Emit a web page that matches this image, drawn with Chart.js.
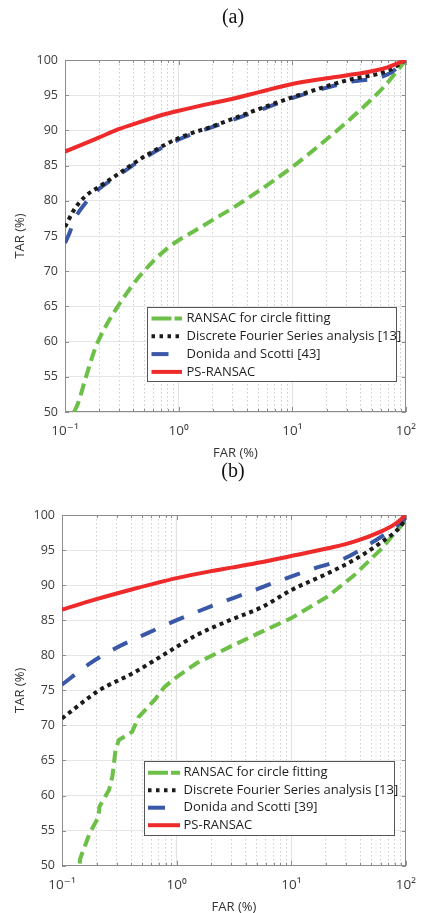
<!DOCTYPE html>
<html>
<head>
<meta charset="utf-8">
<script src="https://cdn.jsdelivr.net/npm/chart.js@4.4.1/dist/chart.umd.min.js"></script>
<style>
  html, body { margin: 0; padding: 0; background: #fff; width: 427px; height: 913px; overflow: hidden; }
  .panel { position: absolute; left: 0; width: 427px; overflow: hidden; }
  #wrapA { top: 0; height: 462px; }
  #wrapB { top: 458px; height: 455px; }
</style>
</head>
<body>
<div class="panel" id="wrapA"><canvas id="chartA" width="427" height="462"></canvas></div>
<div class="panel" id="wrapB"><canvas id="chartB" width="427" height="460"></canvas></div>
<script>
// axis ticks
const X_DECADES = [0.1, 1, 10, 100];
const X_DECADE_LABELS = ["10⁻¹", "10⁰", "10¹", "10²"];
const Y_TICKS = [50, 55, 60, 65, 70, 75, 80, 85, 90, 95, 100];

// panel (a)
const LABELS_A = ["RANSAC for circle fitting", "Discrete Fourier Series analysis [13]", "Donida and Scotti [43]", "PS-RANSAC"];
const FAR_A_RANSAC = [0.12, 0.13, 0.153, 0.186, 0.227, 0.286, 0.35, 0.4375, 0.587, 0.79, 1, 1.34, 1.98, 2.94, 4.96, 10, 19.6, 37.8, 64, 100];
const TAR_A_RANSAC = [50, 51.2, 55, 59.2, 62.1, 64.8, 66.9, 69, 71.3, 73.2, 74.4, 75.6, 77.25, 78.9, 81.3, 84.8, 88.6, 92.6, 96.2, 100];
const FAR_A_DFS = [0.1, 0.12, 0.15, 0.2, 0.3, 0.5, 1, 2, 5, 10, 30, 70, 100];
const TAR_A_DFS = [76.3, 78.7, 80.6, 82, 83.9, 86.3, 88.9, 90.6, 93, 94.7, 97.1, 98.5, 100];
const FAR_A_DONIDA = [0.1, 0.11, 0.12, 0.15, 0.2, 0.3, 0.5, 1, 2, 5, 10, 30, 70, 100];
const TAR_A_DONIDA = [74, 75.5, 77.2, 79.6, 81.7, 83.7, 86.1, 88.7, 90.5, 92.8, 94.6, 96.8, 98, 100];
const FAR_A_PS = [0.1, 0.15, 0.2, 0.3, 0.5, 0.7, 1, 2, 3, 5, 10, 20, 50, 70, 100];
const TAR_A_PS = [87, 88.15, 89, 90.2, 91.4, 92.15, 92.8, 93.9, 94.5, 95.4, 96.6, 97.4, 98.4, 99, 100];

// panel (b)
const LABELS_B = ["RANSAC for circle fitting", "Discrete Fourier Series analysis [13]", "Donida and Scotti [39]", "PS-RANSAC"];
const FAR_B_RANSAC = [0.143, 0.144, 0.174, 0.209, 0.212, 0.257, 0.275, 0.293, 0.313, 0.41, 0.465, 0.64, 0.785, 1, 1.5, 2.91, 5.6, 10, 20.9, 35.3, 59.6, 89, 100];
const TAR_B_RANSAC = [50.3, 51, 54.6, 57, 58.4, 60.8, 62.7, 66.5, 67.9, 69.1, 71.2, 73.6, 75.5, 76.9, 78.9, 81.2, 83.4, 85.3, 88.4, 91.4, 95, 98.3, 99.5];
const FAR_B_DFS = [0.1, 0.211, 0.41, 1, 1.5, 2.91, 5.6, 10, 20.9, 35.3, 59.6, 89, 100];
const TAR_B_DFS = [71, 75, 77.4, 81.2, 82.9, 85, 86.9, 89.3, 91.7, 93.6, 96, 98.3, 99.5];
const FAR_B_DONIDA = [0.1, 0.174, 0.293, 0.565, 1, 2.24, 4, 7.8, 15, 29, 52, 89, 100];
const TAR_B_DONIDA = [75.8, 78.8, 81, 83.2, 85, 87.3, 88.8, 90.6, 92.25, 93.8, 96.2, 98.8, 99.6];
const FAR_B_PS = [0.1, 0.2, 0.42, 1, 2, 3, 5.6, 10, 20.9, 35.3, 59.6, 80, 100];
const TAR_B_PS = [86.5, 88, 89.45, 91, 92, 92.5, 93.3, 94.15, 95.25, 96.2, 97.6, 98.7, 100];

// line styles, same order as the labels
const STYLES = [
  { color: "#6cbf47", dash: [12, 6], legendDash: [20, 3], order: 3 },
  { color: "#1b1b1b", dash: [4, 4], legendDash: [3.5, 4.5], order: 1 },
  { color: "#3a58a8", dash: [16, 15], legendDash: [17, 40], order: 2 },
  { color: "#ee2a2a", dash: [], legendDash: [], order: 0 }
];

const TICK_FONT = { family: "'Open Sans', 'DejaVu Sans', sans-serif", size: 12.5 };

// minor ticks 1..9 in each decade
const X_TICK_VALUES = [];
for (let i = 0; i < X_DECADES.length - 1; i++) {
  for (let k = 1; k <= 9; k++) X_TICK_VALUES.push(k === 1 ? X_DECADES[i] : k * X_DECADES[i]);
}
X_TICK_VALUES.push(X_DECADES[X_DECADES.length - 1]);
const isDecade = v => X_DECADES.includes(v);

const matlabPlugin = {
  id: "matlabFrame",
  beforeDatasetsDraw(chart) {
    const { ctx, chartArea: a, scales: { x, y } } = chart;
    ctx.save();
    ctx.strokeStyle = "#8c8c8c";
    ctx.lineWidth = 1;
    ctx.strokeRect(Math.round(a.left) + 0.5, Math.round(a.top) + 0.5, Math.round(a.right - a.left) - 1, Math.round(a.bottom - a.top) - 1);
    ctx.beginPath();
    y.ticks.forEach(t => {
      const py = Math.round(y.getPixelForValue(t.value)) + 0.5;
      ctx.moveTo(a.left, py); ctx.lineTo(a.left + 4, py);
      ctx.moveTo(a.right - 4, py); ctx.lineTo(a.right, py);
    });
    x.ticks.forEach(t => {
      const px = Math.round(x.getPixelForValue(t.value)) + 0.5;
      const len = isDecade(t.value) ? 5 : 3;
      ctx.moveTo(px, a.top); ctx.lineTo(px, a.top + len);
      ctx.moveTo(px, a.bottom); ctx.lineTo(px, a.bottom - len);
    });
    ctx.stroke();
    ctx.restore();
  },
  afterDatasetsDraw(chart, args, opts) {
    const { ctx } = chart;
    const lg = opts.legend;
    ctx.save();
    ctx.fillStyle = "#fff";
    ctx.fillRect(lg.x, lg.y, lg.w, lg.h);
    ctx.strokeStyle = "#555";
    ctx.lineWidth = 1;
    ctx.strokeRect(lg.x + 0.5, lg.y + 0.5, lg.w, lg.h);
    chart.data.datasets.forEach((ds, i) => {
      const ry = lg.y + lg.first + i * lg.step;
      ctx.beginPath();
      ctx.setLineDash(STYLES[i].legendDash);
      ctx.strokeStyle = ds.borderColor;
      ctx.lineWidth = ds.borderWidth;
      ctx.moveTo(lg.x + lg.s0, ry);
      ctx.lineTo(lg.x + lg.s1, ry);
      ctx.stroke();
      ctx.setLineDash([]);
      ctx.fillStyle = "#1e1e1e";
      ctx.font = "13px 'Open Sans', 'DejaVu Sans', sans-serif";
      ctx.textBaseline = "middle";
      ctx.textAlign = "left";
      ctx.fillText(ds.label, lg.x + lg.tx, ry);
    });
    ctx.restore();
  },
  afterDraw(chart, args, opts) {
    const { ctx } = chart;
    ctx.save();
    ctx.fillStyle = "#111";
    ctx.font = "20px 'Liberation Serif', 'DejaVu Serif', serif";
    ctx.textAlign = "center";
    ctx.textBaseline = "middle";
    ctx.fillText(opts.panel.text, opts.panel.x, opts.panel.y);
    ctx.restore();
  }
};

function makeChart(id, labels, fars, tars, lay) {
  const datasets = labels.map((lab, i) => ({
    label: lab,
    data: fars[i].map((f, j) => ({ x: f, y: tars[i][j] })),
    borderColor: STYLES[i].color,
    backgroundColor: STYLES[i].color,
    borderDash: STYLES[i].dash,
    borderWidth: 4,
    borderCapStyle: "butt",
    pointRadius: 0,
    fill: false,
    order: STYLES[i].order,
    cubicInterpolationMode: lay.linear && lay.linear.includes(i) ? "default" : "monotone",
    tension: 0
  }));

  return new Chart(document.getElementById(id), {
    type: "line",
    data: { datasets },
    plugins: [matlabPlugin],
    options: {
      responsive: false,
      animation: false,
      events: [],
      layout: { padding: { top: lay.top, right: lay.right, left: 0, bottom: 0 } },
      plugins: {
        legend: { display: false },
        tooltip: { enabled: false },
        matlabFrame: { legend: lay.legend, panel: lay.panel }
      },
      scales: {
        x: {
          type: "logarithmic",
          min: 0.1,
          max: 100,
          afterBuildTicks: s => { s.ticks = X_TICK_VALUES.map(v => ({ value: v, major: isDecade(v) })); },
          afterFit: s => { s.height = lay.xHeight; },
          ticks: {
            autoSkip: false,
            maxRotation: 0,
            padding: 11,
            color: "#3c3c3c",
            font: { family: TICK_FONT.family, size: 13.5 },
            callback: v => { const k = X_DECADES.indexOf(v); return k >= 0 ? X_DECADE_LABELS[k] : ""; }
          },
          grid: {
            drawTicks: false,
            lineWidth: 1,
            color: c => (c.tick && isDecade(c.tick.value)) ? "#e2e2e2" : "#cfcfcf"
          },
          border: {
            display: false,
            dash: c => (c.tick && !isDecade(c.tick.value)) ? [1.5, 2.5] : []
          },
          title: {
            display: true,
            text: "FAR (%)",
            color: "#333",
            font: { family: TICK_FONT.family, size: 13 },
            padding: { top: 0, bottom: lay.xTitlePad }
          }
        },
        y: {
          min: 50,
          max: 100,
          afterBuildTicks: s => { s.ticks = Y_TICKS.map(v => ({ value: v })); },
          afterFit: s => { s.width = lay.yWidth; },
          ticks: { padding: 7, color: "#3c3c3c", font: TICK_FONT },
          grid: { drawTicks: false, color: "#e6e6e6", lineWidth: 1 },
          border: { display: false },
          title: {
            display: true,
            text: "TAR (%)",
            color: "#333",
            font: { family: TICK_FONT.family, size: 13 },
            padding: { top: lay.yTitlePad, bottom: 0 }
          }
        }
      }
    }
  });
}

makeChart("chartA", LABELS_A,
  [FAR_A_RANSAC, FAR_A_DFS, FAR_A_DONIDA, FAR_A_PS],
  [TAR_A_RANSAC, TAR_A_DFS, TAR_A_DONIDA, TAR_A_PS],
  {
    top: 60, right: 11, yWidth: 65, xHeight: 50, xTitlePad: 1, yTitlePad: 12,
    legend: { x: 147, y: 307, w: 249, h: 74, first: 11.5, step: 17.8, s0: 4.5, s1: 35, tx: 39.5 },
    panel: { text: "(a)", x: 233, y: 18 }
  });

makeChart("chartB", LABELS_B,
  [FAR_B_RANSAC, FAR_B_DFS, FAR_B_DONIDA, FAR_B_PS],
  [TAR_B_RANSAC, TAR_B_DFS, TAR_B_DONIDA, TAR_B_PS],
  {
    top: 57, right: 14, yWidth: 62, xHeight: 52.3, xTitlePad: 3, yTitlePad: 12, linear: [0],
    legend: { x: 144, y: 303, w: 250, h: 74, first: 11.7, step: 17.5, s0: 4, s1: 36, tx: 39.5 },
    panel: { text: "(b)", x: 233, y: 14 }
  });
</script>
</body>
</html>
